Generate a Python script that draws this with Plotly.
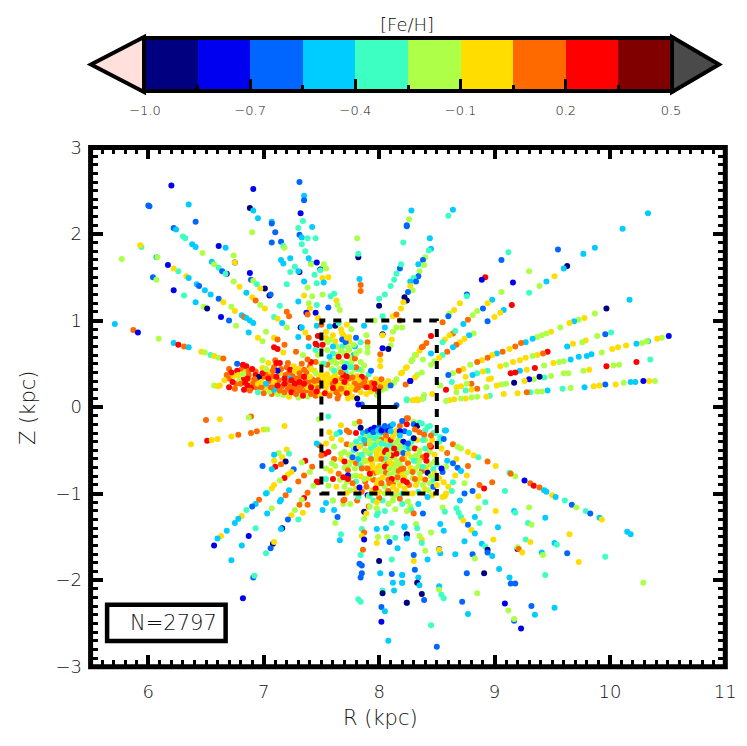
import plotly.graph_objects as go

# colorbar
fe_edges = [-1.0, -0.85, -0.7, -0.55, -0.4, -0.25, -0.1, 0.05, 0.2, 0.35, 0.5]
fe_colors = ['#000080', '#0000f0', '#0066ff', '#00ccff', '#3dffc2',
             '#adff47', '#ffdd00', '#ff6a00', '#ff0000', '#800000']
fe_ticks = [-1.0, -0.7, -0.4, -0.1, 0.2, 0.5]
fe_ticktext = ['\u22121.0', '\u22120.7', '\u22120.4', '\u22120.1', '0.2', '0.5']

# stars, one row per star: R (kpc), Z (kpc), [Fe/H]
rays_upper_left = [
 [6.20,2.56,-.8],[7.31,2.60,-.6],[6.91,2.52,-.8],[7.35,2.44,-.5],[7.35,2.39,-.6],[6.00,2.33,-.6],[6.01,2.32,-.6],
 [6.35,2.34,-.5],[6.88,2.30,-.9],[6.91,2.27,-.5],[6.95,2.18,-.5],[7.32,2.24,-.8],[7.34,2.15,-.3],[6.41,2.14,-.6],
 [7.07,2.14,-.5],[7.07,2.12,-.6],[7.10,2.02,-.6],[7.42,2.08,-.5],[7.30,2.07,-.3],[6.22,2.07,-.6],[6.24,2.05,-.5],
 [6.90,2.02,-.2],[7.31,1.99,-.6],[7.33,1.96,-.5],[7.38,1.95,-.3],[7.45,1.95,-.3],[7.81,1.95,-.2],[6.30,1.97,-.3],
 [6.32,1.95,-.3],[7.07,1.90,-.6],[7.15,1.91,-.6],[7.17,1.86,-.3],[7.18,1.84,-.2],[5.94,1.85,-.3],[5.93,1.87,0.],
 [6.38,1.88,-.5],[6.41,1.85,-.5],[6.61,1.86,-.8],[6.67,1.84,-.5],[7.33,1.88,-.3],[7.36,1.80,-.3],[6.47,1.78,-.2],
 [6.74,1.75,-.2],[5.77,1.71,-.2],[6.07,1.73,-.5],[6.08,1.73,-.2],[7.23,1.72,-.5],[7.39,1.72,-.5],[7.82,1.73,-.9],
 [7.82,1.77,-.3],[7.15,1.70,-.5],[7.17,1.66,-.5],[6.55,1.68,-.5],[6.57,1.65,-.2],[6.17,1.64,-.8],[6.75,1.67,-.9],
 [6.75,1.67,0.],[7.41,1.66,-.5],[7.41,1.65,-.2],[7.46,1.67,-.8],[7.52,1.65,-.2],[7.27,1.62,-.3],[6.26,1.57,-.3],
 [6.22,1.60,0.],[6.61,1.61,-.3],[6.64,1.57,-.6],[6.68,1.54,-.9],[6.67,1.54,-.3],[7.23,1.56,-.3],[7.31,1.56,-.9],
 [7.30,1.57,-.5],[7.49,1.59,-.9],[7.49,1.58,-.3],[7.54,1.60,-.2],[7.56,1.50,0.],[6.88,1.55,-.8],[7.44,1.53,-.3],
 [6.04,1.50,-.6],[6.07,1.47,-.2],[6.33,1.51,0.],[6.35,1.49,-.5],[7.51,1.49,0.],[7.52,1.44,-.5],[7.83,1.48,-.5],
 [7.84,1.41,.1],[7.84,1.34,.1],[6.89,1.47,-.6],[6.91,1.46,-.2],[6.74,1.45,-.2],[7.35,1.45,-.5],[7.46,1.43,-.3],
 [6.42,1.42,-.5],[6.44,1.40,-.6],[6.94,1.42,-.3],[6.79,1.39,0.],[7.20,1.42,-.3],[7.01,1.37,-.9],[6.97,1.37,0.],
 [7.38,1.38,-.2],[6.22,1.35,-.8],[6.49,1.35,-.5],[6.85,1.32,-.5],[7.35,1.29,0.],[7.42,1.28,-.2],[7.51,1.30,-.2],
 [7.58,1.28,-.3],[7.61,1.31,-.3],[7.05,1.29,-.9],[7.06,1.30,-.6],[6.54,1.30,-.5],[6.61,1.25,-.6],[6.31,1.29,-.3],
 [6.90,1.27,0.],[6.93,1.23,.1],[6.65,1.21,0.],[6.41,1.21,-.5],[7.30,1.22,-.5],[7.39,1.20,-.2],[7.46,1.18,-.3],
 [7.63,1.23,0.],[7.64,1.18,-.2],[6.97,1.18,-.2],[7.01,1.14,0.],[7.14,1.17,-.3],[6.48,1.16,-.2],[6.51,1.14,-.9],
 [6.72,1.16,-.2],[6.75,1.11,0.],[7.56,1.15,-.6],[7.40,1.14,0.],[7.66,1.12,-.2],[7.37,1.09,-.8],[7.38,1.07,.1],
 [7.45,1.09,-.8],[7.20,1.10,.1],[7.22,1.05,.1],[6.63,1.04,-.8],[6.70,1.00,-.6],[6.81,1.06,-.5],[6.83,1.04,.1],
 [6.85,1.03,-.5],[6.88,1.00,-.5],[6.91,.97,-.5],[7.09,1.04,-.3],[7.12,1.02,0.],[7.47,1.03,0.],[7.16,.97,-.5],
 [6.76,.94,-.2],[7.20,.92,-.2],[5.71,.96,-.5],[5.87,.89,.1],[5.91,.86,-.8],[7.32,.92,-.9],[7.33,.92,-.5],
 [7.02,.87,-.2],[6.87,.86,-.5],[7.36,.86,0.],[7.46,.94,-.5],[7.39,.80,.1],[7.30,.81,-.5],[6.95,.80,0.],[6.99,.76,-.2],
 [6.09,.79,-.2],[7.09,.80,0.],[7.12,.78,.1],[7.18,.72,.1],[6.22,.74,-.5],[6.26,.72,.3],[6.31,.70,.1],[6.35,.69,-.5],
 [7.39,.70,-.5],[7.09,.69,.3],[7.12,.67,.3],[7.17,.63,0.],[7.28,.64,.1],[7.45,.73,.3],[7.46,.71,.3],[6.46,.64,0.],
 [6.49,.63,-.2],[6.54,.60,-.3],[6.57,.59,0.],[6.61,.57,-.2],[6.65,.56,.1],
]
rays_upper_right = [
 [8.28,2.27,-.5],[8.26,2.17,-.2],[8.24,2.10,-.6],[8.24,2.09,-.6],[8.64,2.28,-.5],[8.60,2.21,-.3],[10.33,2.24,-.5],[10.11,2.06,-.5],
 [8.44,1.95,-.5],[8.21,1.90,-.3],[8.45,1.83,-.5],[8.43,1.81,-.3],[9.12,1.79,-.3],[9.06,1.70,-.6],[9.55,1.82,-.6],
 [9.87,1.84,-.5],[9.77,1.77,-.5],[8.40,1.73,-.2],[8.38,1.70,-.6],[8.34,1.65,-.5],[8.39,1.64,-.2],[8.35,1.57,-.2],
 [9.63,1.63,-.9],[9.60,1.60,-.5],[9.30,1.57,-.2],[9.52,1.51,0.],[8.92,1.50,.3],[8.89,1.47,-.8],[9.16,1.44,-.8],
 [9.45,1.45,-.5],[9.39,1.40,-.2],[9.30,1.32,-.3],[8.34,1.51,-.6],[8.30,1.49,-.3],[8.32,1.45,-.6],[8.27,1.45,-.5],
 [8.27,1.40,0.],[8.29,1.35,-.2],[8.25,1.33,-.6],[8.22,1.27,-.9],[8.24,1.23,-.9],[8.21,1.21,0.],[8.19,1.14,0.],
 [8.76,1.30,-.6],[8.76,1.28,-.3],[8.70,1.20,0.],[9.06,1.33,-.2],[8.98,1.24,-.5],[8.94,1.20,0.],[9.15,1.18,.3],
 [8.90,1.14,-.6],[8.85,1.11,-.2],[8.81,1.06,-.2],[8.77,1.01,.1],[8.73,.96,-.5],[9.08,1.12,-.5],[9.05,1.09,0.],
 [9.00,1.04,0.],[8.94,.99,-.6],[10.17,1.24,-.5],[9.97,1.14,-.9],[9.87,1.08,-.2],[9.78,1.03,0.],[9.73,1.01,-.2],
 [9.69,.99,-.5],[9.65,.97,0.],[9.57,.92,-.2],[9.49,.87,0.],[9.45,.85,-.2],[9.41,.83,-.2],[9.37,.81,-.2],[9.33,.79,-.5],
 [9.27,.75,-.5],[9.23,.74,.1],[9.18,.70,.1],[9.13,.67,0.],[9.07,.64,.1],[9.02,.62,-.5],[8.98,.60,0.],[8.94,.57,.1],
 [8.89,.54,0.],[8.85,.52,.1],[8.79,.49,-.2],[8.73,.44,0.],[8.69,.42,.1],[8.64,.39,-.2],[8.60,.37,-.6],[8.65,1.12,0.],
 [8.61,1.08,-.2],[8.60,1.05,-.6],[8.55,.98,.1],[8.64,.85,.1],[8.66,.88,-.3],[8.61,.83,0.],[8.57,.78,0.],[8.55,.75,-.3],
 [8.82,.85,-.2],[8.78,.83,-.5],[8.74,.79,0.],[8.70,.75,0.],[8.67,.72,.1],[8.64,.69,-.5],[8.59,.64,.1],[8.55,.60,-.3],
 [8.52,.57,0.],[8.48,.53,-.2],[8.45,.49,-.2],[8.45,.82,.3],[8.41,.74,.1],[8.38,.70,.1],[8.35,.65,0.],[8.32,.60,0.],
 [8.29,.55,-.2],[8.38,.55,-.2],[8.45,.62,-.5],[8.23,.45,-.2],[8.19,.39,0.],[8.37,.40,-.2],[8.33,.37,-.2],[8.31,.34,0.],
 [8.27,.30,-.8],[8.23,.26,.1],[10.01,.86,-.3],[9.96,.84,-.6],[9.89,.82,-.2],[9.79,.77,0.],[9.76,.75,-.2],[9.68,.73,0.],
 [9.63,.70,-.5],[10.51,.82,-.8],[10.45,.80,-.2],[10.41,.79,0.],[10.33,.76,-.5],[10.32,.76,-.2],[10.28,.74,-.2],
 [10.23,.73,-.5],[10.14,.71,0.],[10.07,.69,0.],[10.02,.67,0.],[9.93,.63,-.2],[9.84,.61,-.5],[9.80,.59,-.5],[9.73,.58,-.5],
 [9.66,.55,-.5],[9.60,.53,-.2],[9.56,.52,-.2],[9.51,.51,0.],[9.46,.64,.3],[9.42,.62,.1],[9.37,.60,0.],[9.33,.59,-.2],
 [9.27,.57,0.],[9.22,.54,0.],[9.16,.52,0.],[9.10,.49,-.2],[9.05,.47,0.],[10.35,.55,-.3],[10.23,.52,.3],[10.08,.49,-.2],
 [10.03,.48,-.2],[9.97,.47,.3],[9.82,.43,0.],[9.77,.42,-.2],[9.64,.39,-.2],[9.60,.39,-.2],[9.49,.36,-.2],[9.43,.48,-.2],
 [9.35,.45,.3],[9.28,.43,0.],[9.22,.42,-.5],[9.18,.40,.3],[9.14,.39,.3],[9.43,.34,-.3],[9.39,.35,-.9],[9.34,.32,-.2],
 [9.30,.32,-.8],[9.26,.30,0.],[9.17,.28,-.9],[9.10,.27,-.2],[9.06,.26,-.2],[9.02,.25,0.],[8.97,.33,0.],[8.95,.32,0.],
 [8.94,.42,-.3],[8.90,.41,0.],[8.85,.39,-.3],[8.81,.37,-.5],[8.75,.35,0.],[8.80,.27,.1],[8.76,.27,-.2],[8.71,.24,0.],
 [8.67,.23,0.],[8.63,.29,-.3],[8.53,.25,-.2],[8.58,.20,.3],[8.93,.23,-.2],[8.85,.21,.1],[8.75,.19,-.3],[8.80,.20,0.],
 [8.67,.17,-.2],[10.39,.30,-.2],[10.34,.30,0.],[10.29,.30,-.8],[10.22,.29,-.5],[10.18,.29,-.5],[10.12,.28,-.2],
 [10.05,.26,0.],[9.96,.26,-.6],[9.91,.25,0.],[9.86,.24,0.],[9.78,.23,-.5],[9.66,.22,-.2],[9.59,.21,-.3],[9.46,.19,-.5],
 [9.41,.18,-.2],[9.37,.18,-.2],[9.31,.17,-.3],[9.28,.17,.1],[9.20,.16,0.],[9.08,.15,0.],[8.96,.13,-.3],[8.93,.12,0.],
 [8.85,.12,-.2],[8.80,.11,-.2],[8.75,.10,0.],[8.71,.10,-.2],[8.65,.09,0.],[8.61,.08,0.],[8.58,.07,-.2],[8.46,.15,0.],
 [8.39,.14,-.2],[8.38,.10,-.5],[8.33,.09,0.],[8.30,.08,0.],[8.24,.09,-.3],
]
rays_lower_left = [
 [6.50,-.15,.1],[6.62,-.14,0.],[6.89,-.11,.1],[6.87,-.12,-.2],[7.18,-.22,0.],[6.37,-.43,0.],[6.51,-.39,.3],[6.55,-.38,0.],
 [6.60,-.37,0.],[6.72,-.34,0.],[6.78,-.32,.1],[6.89,-.30,.1],[6.94,-.28,.1],[7.00,-.26,0.],[7.03,-.26,-.2],[7.20,-.49,0.],
 [7.13,-.53,-.2],[7.09,-.55,-.5],[7.22,-.54,-.3],[7.16,-.58,0.],[7.09,-.62,0.],[7.19,-.63,-.9],[7.15,-.66,.1],[7.10,-.69,.3],
 [7.07,-.72,-.5],[6.99,-.68,-.6],[7.26,-.72,-.6],[7.24,-.75,0.],[7.21,-.78,0.],[7.18,-.82,.3],[7.14,-.85,-.2],[7.09,-.90,0.],
 [7.07,-.94,0.],[7.03,-.99,-.3],[7.02,-1.00,-.5],[7.36,-.62,.3],[7.33,-.64,-.2],[7.42,-.69,.1],[7.40,-.75,-.2],[7.35,-.79,.1],
 [7.30,-.86,.1],[7.22,-.96,-.5],[7.46,-.86,.3],[7.43,-.91,-.2],[7.38,-.99,.1],[7.35,-1.05,.3],[7.33,-1.07,-.2],[7.38,-1.13,.1],
 [7.31,-1.13,.1],[7.19,-1.02,.1],[7.15,-1.07,-.5],[7.14,-1.09,-.5],[6.96,-1.07,.1],[6.93,-1.12,-.5],[6.90,-1.15,-.6],
 [6.85,-1.19,-.3],[6.81,-1.26,0.],[6.78,-1.29,-.5],[6.75,-1.34,-.5],[7.07,-1.17,-.2],[7.03,-1.23,-.5],[7.27,-1.19,-.2],
 [7.24,-1.25,0.],[7.21,-1.30,-.6],[7.34,-1.22,0.],[7.30,-1.30,-.3],[6.93,-1.40,-.3],[6.68,-1.43,-.5],[6.63,-1.49,0.],
 [6.60,-1.52,-.5],[6.57,-1.60,-.8],[6.87,-1.49,-.8],[6.81,-1.60,-.5],[6.72,-1.77,-.5],[7.16,-1.40,-.9],[7.15,-1.41,-.5],
 [7.08,-1.58,-.9],[7.09,-1.56,0.],[7.06,-1.63,-.6],[7.02,-1.69,-.3],[6.91,-1.97,-.6],[6.92,-1.95,-.3],[6.82,-2.21,-.8],
 [7.51,-1.19,-.5],[7.54,-1.11,-.5],[7.60,-1.08,-.3],[7.61,-1.19,-.5],[7.64,-1.27,-.6],[7.62,-1.34,-.2],[7.67,-1.47,-.3],
 [7.66,-1.54,-.5],[7.70,-1.07,.1],[7.69,-1.12,-.2],[7.75,-1.12,-.2],[7.81,-1.08,.1],[7.87,-1.21,-.9],[7.91,-1.15,.1],
 [7.89,-1.23,0.],[7.87,-1.29,-.2],[7.85,-1.41,-.3],[7.87,-1.45,.1],[7.85,-1.49,0.],[7.87,-1.53,-.8],[7.86,-1.65,.1],
 [7.84,-1.71,-.3],[7.83,-1.81,-.6],[7.85,-1.83,-.6],[7.85,-1.92,-.6],[7.84,-1.97,-.6],[7.82,-2.22,-.3],[7.84,-2.25,-.3],
 [7.98,-1.25,-.3],[7.98,-1.41,-.5],[7.99,-1.50,-.2],[7.98,-1.57,0.],[8.06,-1.40,-.5],[8.11,-1.34,-.3],[8.07,-1.50,-.2],
 [8.14,-1.51,-.3],[8.09,-1.56,-.6],[8.16,-1.63,-.5],[8.11,-1.76,-.3],[8.00,-1.78,-.9],[8.01,-1.92,-.5],[8.11,-1.93,-.6],
 [8.20,-1.94,-.5],[8.12,-2.03,-.5],[8.20,-2.03,-.5],[8.13,-2.12,-.5],[8.03,-2.12,-.3],[8.03,-2.15,-.9],[8.02,-2.31,-.6],
 [8.05,-2.36,-.5],[8.02,-2.48,-.8],[8.08,-2.70,-.5],[8.24,-2.26,-.6],[8.22,-1.38,-.5],[8.24,-1.48,-.9],
]
rays_lower_right = [
 [8.58,-.27,-.5],[8.53,-.35,-.3],[8.49,-.30,-.3],[8.44,-.22,-.3],[8.35,-.18,-.3],[8.30,-.17,-.2],[8.24,-.13,.1],[8.64,-.43,.1],
 [8.68,-.46,-.2],[8.71,-.48,-.2],[8.77,-.52,0.],[8.82,-.56,0.],[8.86,-.58,-.3],[8.94,-.63,.1],[9.01,-.68,0.],[8.54,-.48,-.2],
 [8.59,-.53,.1],[8.67,-.60,0.],[8.59,-.62,-.5],[8.64,-.65,-.6],[8.68,-.70,-.6],[8.71,-.74,-.5],[8.76,-.79,0.],[8.77,-.68,.1],
 [8.58,-.69,-.2],[8.55,-.75,-.6],[8.66,-.79,0.],[8.56,-.87,0.],[8.60,-.92,0.],[8.64,-.87,-.3],[8.74,-.88,-.2],[8.87,-.90,.1],
 [8.91,-.94,.3],[8.98,-.87,.1],[8.81,-.97,-.6],[8.74,-1.00,-.6],[8.63,-.97,-.3],[8.57,-1.03,0.],[8.70,-1.08,-.5],[8.86,-1.03,0.],
 [8.92,-1.10,-.3],[8.86,-1.17,-.2],[8.55,-1.16,-.2],[8.57,-1.21,-.3],[8.67,-1.17,-.3],[8.69,-1.22,-.3],[8.71,-1.27,-.3],
 [8.73,-1.31,0.],[8.77,-1.36,-.6],[8.80,-1.42,0.],[8.83,-1.46,-.5],[8.83,-1.27,-.5],[8.87,-1.34,-.3],[9.01,-1.20,0.],
 [9.03,-1.39,-.5],[9.09,-.97,-.3],[9.13,-.76,-.3],[9.18,-.80,-.2],[9.14,-.77,.1],[9.26,-.85,-.8],[9.31,-.88,.1],[9.34,-.91,.3],
 [9.39,-.93,.1],[9.43,-.96,-.5],[9.45,-.98,-.5],[9.50,-1.02,0.],[9.53,-1.04,-.5],[9.61,-1.08,-.3],[9.67,-1.13,-.6],
 [9.71,-1.16,-.2],[9.79,-1.20,-.3],[9.83,-1.23,-.6],[9.91,-1.28,-.5],[9.93,-1.30,0.],[9.17,-1.20,-.5],[9.18,-1.22,-.3],
 [9.30,-1.16,-.2],[9.44,-1.28,-.5],[9.29,-1.34,-.3],[9.32,-1.36,-.2],[10.15,-1.44,-.5],[10.18,-1.47,-.5],[9.65,-1.47,0.],
 [8.99,-1.53,0.],[9.27,-1.53,-.3],[9.31,-1.56,0.],[9.52,-1.57,-.5],[9.54,-1.59,-.3],[8.89,-1.58,-.5],[8.92,-1.61,-.3],
 [8.94,-1.65,-.9],[8.94,-1.68,-.6],[8.98,-1.72,-.5],[9.20,-1.64,-.9],[9.20,-1.62,-.2],[9.21,-1.64,.1],[9.24,-1.68,0.],
 [9.41,-1.68,-.5],[9.42,-1.71,-.2],[9.63,-1.69,-.6],[9.73,-1.79,0.],[9.96,-1.73,-.3],[8.81,-1.70,-.6],[8.83,-1.75,-.2],
 [8.66,-1.70,-.5],[8.74,-1.55,-.5],[8.53,-1.69,-.5],[8.52,-1.64,-.6],[8.52,-1.65,0.],[8.42,-1.76,-.5],[8.30,-1.71,-.6],
 [8.30,-1.78,0.],[8.31,-1.88,-.6],[8.40,-1.66,-.2],[8.45,-1.45,-.2],[8.56,-1.43,-.5],[8.53,-1.35,-.5],[8.37,-1.53,0.],
 [8.35,-1.49,-.2],[8.37,-1.57,-.3],[8.32,-1.35,-.2],[8.33,-1.40,-.3],[8.24,-1.47,-.9],[8.24,-1.52,-.5],[8.22,-1.39,-.5],
 [8.27,-1.15,-.2],[8.28,-1.19,-.3],[8.30,-1.23,.1],[8.38,-1.23,-.6],[8.34,-1.12,-.5],[8.76,-1.92,-.6],[8.91,-1.92,-.9],
 [9.04,-1.87,-.5],[9.13,-1.97,-.5],[9.14,-2.04,-.6],[9.18,-2.04,-.6],[9.44,-1.94,-.3],[10.29,-2.03,-.2],[8.20,-1.94,-.5],
 [8.20,-2.03,-.5],[8.34,-1.97,-.5],[8.33,-2.03,-.9],[8.35,-2.06,-.5],[8.52,-2.07,-.5],[8.52,-2.11,-.2],[8.54,-2.17,-.3],
 [8.56,-2.21,-.3],[8.37,-2.16,-.9],[8.39,-2.23,-.6],[8.24,-2.26,-.9],[8.72,-2.25,-.6],[8.85,-2.15,-.2],[8.77,-2.39,-.5],
 [9.09,-2.27,-.8],[9.12,-2.35,-.2],[9.32,-2.30,-.6],[9.52,-2.32,-.5],[9.35,-2.40,-.5],[9.17,-2.47,-.6],[9.17,-2.45,-.2],
 [9.23,-2.56,-.8],[8.45,-2.52,-.3],[8.50,-2.77,-.6],
]
disk_fill = [
 [6.70,.33,.1],[6.74,.36,0.],[6.76,.27,.1],[6.79,.31,-.2],[6.81,.44,.1],[6.84,.40,0.],[6.87,.37,.1],[6.89,.31,0.],[6.91,.27,.1],[6.93,.41,.1],
 [6.94,.22,.1],[6.97,.31,.1],[6.99,.45,0.],[7.00,.35,.1],[7.01,.22,0.],[7.03,.38,.1],[7.05,.30,.1],[7.06,.41,0.],[7.07,.15,.1],[7.08,.36,.1],
 [7.09,.46,.1],[7.10,.25,.1],[7.11,.20,0.],[7.13,.31,.1],[7.14,.39,0.],[7.15,.44,.1],[7.16,.24,.1],[7.17,.14,-.2],[7.19,.37,.1],[7.20,.29,.1],
 [7.21,.21,.1],[7.22,.40,.1],[7.23,.24,.1],[7.25,.36,.1],[7.26,.47,0.],[7.26,.20,.1],[7.28,.33,.1],[7.29,.27,.1],[7.30,.44,0.],[7.31,.19,.1],
 [7.32,.35,.1],[7.33,.24,.1],[7.36,.30,.1],[7.37,.40,.1],[7.37,.19,.1],[7.39,.28,.1],[7.40,.47,.1],[7.42,.32,.1],[7.42,.18,.1],[7.43,.25,0.],
 [7.44,.42,0.],[7.45,.13,.1],[7.46,.27,0.],[7.47,.22,.1],[7.48,.36,0.],[7.49,.14,0.],[7.38,.12,-.2],[7.30,.11,-.2],[7.22,.12,0.],[7.12,.15,-.2],
 [7.00,.16,.1],
]
box_fill = [
 [7.52,.30,0.],[7.54,.22,0.],[7.55,.38,0.],[7.56,.15,0.],[7.58,.31,0.],[7.59,.44,-.2],[7.60,.18,0.],[7.61,.26,0.],[7.62,.38,0.],[7.63,.23,0.],
 [7.64,.33,0.],[7.65,.14,.1],[7.66,.44,-.2],[7.66,.26,0.],[7.68,.18,0.],[7.68,.33,.1],[7.70,.22,0.],[7.71,.40,-.3],[7.72,.27,0.],[7.73,.46,-.2],
 [7.74,.33,.1],[7.75,.20,0.],[7.76,.38,-.2],[7.77,.12,0.],[7.78,.28,0.],[7.79,.44,-.2],[7.80,.20,.1],[7.81,.36,0.],[7.83,.27,.1],[7.84,.17,0.],
 [7.85,.42,-.2],[7.86,.25,.1],[7.88,.33,.1],[7.89,.15,0.],[7.90,.28,0.],[7.91,.38,-.3],[7.93,.18,0.],[7.94,.28,.1],[7.97,.32,0.],[7.98,.14,-.2],
 [8.00,.28,0.],[8.03,.20,-.2],[8.06,.22,-.2],[8.08,.30,0.],[7.58,.52,-.2],[7.64,.60,-.2],[7.68,.52,-.2],[7.72,.50,-.3],[7.76,.52,-.2],[7.82,.44,-.3],
 [7.78,.60,-.5],[7.74,.66,-.2],[7.68,.70,-.3],[7.60,.62,-.3],[7.55,.66,-.2],[7.50,.50,-.2],[7.62,.76,0.],[7.68,.85,0.],[7.74,.76,0.],[7.76,.90,-.2],
 [7.72,.95,0.],[7.58,.78,-.2],[7.54,.80,0.],[7.80,.80,-.6],[7.79,.70,-.5],[7.83,.65,-.2],[7.84,.75,-.3],
]
bulge_fill = [
 [7.86,-.30,-.5],[7.89,-.34,-.2],[7.90,-.28,-.6],[7.93,-.26,-.8],[7.96,-.24,-.8],[7.98,-.30,-.3],[8.00,-.24,-.6],[8.03,-.33,-.2],[8.05,-.28,-.6],
 [8.08,-.27,-.8],[8.10,-.22,-.6],[8.13,-.31,0.],[7.84,-.36,-.3],[7.88,-.42,.1],[7.91,-.37,-.2],[7.94,-.36,0.],[7.97,-.42,-.2],[7.99,-.36,-.3],
 [8.02,-.38,.1],[8.04,-.42,-.3],[8.07,-.38,0.],[8.10,-.43,-.3],[8.14,-.41,-.2],[8.17,-.38,-.2],[7.80,-.40,-.3],[7.84,-.44,-.3],[7.88,-.50,-.2],
 [7.92,-.54,-.3],[7.95,-.50,-.2],[7.98,-.55,0.],[8.01,-.48,-.2],[8.03,-.55,0.],[8.06,-.60,-.3],[8.10,-.50,-.2],[8.13,-.58,-.2],[8.16,-.48,-.3],
 [8.19,-.52,-.2],[8.22,-.46,-.3],[8.26,-.48,-.5],[8.28,-.40,-.3],[7.78,-.50,-.3],[7.82,-.55,-.2],[7.86,-.59,-.2],[7.90,-.62,0.],[7.94,-.66,0.],
 [7.96,-.60,-.2],[8.00,-.68,0.],[8.04,-.66,-.2],[8.07,-.66,.1],[8.11,-.66,0.],[8.14,-.72,-.2],[8.18,-.66,-.2],[8.22,-.60,0.],[8.25,-.65,.1],
 [8.28,-.58,-.2],[8.32,-.62,-.3],[8.35,-.55,-.2],[8.38,-.58,.1],[8.40,-.48,-.3],[8.44,-.52,-.2],[8.48,-.55,0.],[7.70,-.52,-.2],[7.74,-.55,-.2],
 [7.70,-.70,-.2],[7.76,-.62,0.],[7.80,-.65,.1],[7.84,-.67,-.3],[7.88,-.70,0.],[7.92,-.72,0.],[7.96,-.76,.1],[7.99,-.75,0.],[8.02,-.74,-.2],[8.06,-.76,.1],
 [8.09,-.78,-.2],[8.13,-.76,-.2],[8.17,-.74,.1],[8.20,-.78,0.],[8.24,-.76,-.2],[8.27,-.70,0.],[8.31,-.72,-.2],[8.34,-.68,-.2],[8.37,-.74,.1],[8.41,-.70,0.],
 [8.44,-.66,-.2],[8.47,-.72,-.3],[8.50,-.66,-.3],[7.58,-.74,0.],[7.62,-.68,-.2],[7.66,-.84,-.2],[7.72,-.86,-.2],[7.76,-.80,-.2],[7.80,-.86,-.3],[7.84,-.80,0.],
 [7.88,-.86,.1],[7.91,-.82,0.],[7.95,-.84,.1],[7.98,-.90,0.],[8.01,-.84,0.],[8.05,-.92,-.2],[8.08,-.84,.1],[8.12,-.88,.1],[8.15,-.84,-.2],[8.18,-.90,0.],
 [8.22,-.82,0.],[8.26,-.90,.1],[8.29,-.82,-.2],[8.33,-.86,-.2],[8.36,-.82,0.],[8.40,-.84,.1],[8.44,-.88,-.2],[8.47,-.84,-.3],[8.52,-.82,0.],[7.75,-.96,-.2],
 [7.80,-.94,0.],[7.85,-.98,.1],[7.94,-.96,0.],[8.00,-.98,0.],[8.05,-1.00,-.2],[8.08,-.97,.1],[8.15,-1.02,-.2],[8.20,-1.00,-.3],[8.25,-1.00,0.],[8.34,-.98,-.3],
 [8.40,-.95,0.],[8.46,-1.02,0.],[7.82,-1.04,-.3],[7.95,-1.08,-.3],[8.03,-1.08,-.3],[8.08,-1.12,-.2],[8.12,-1.08,-.2],[8.20,-1.12,-.3],[8.14,-1.18,-.2],
 [8.05,-1.20,-.3],[7.99,-1.22,-.3],[8.24,-1.20,-.2],[7.92,-1.15,-.2],[8.30,-.20,-.6],[8.22,-.28,-.6],[8.33,-.22,-.9],[8.26,-.30,-.5],[8.40,-.27,-.3],
 [8.47,-.30,-.3],[8.40,-.38,-.2],[8.46,-.38,0.],[8.33,-.38,0.],[8.52,-.40,-.3],[8.18,-.22,.1],[8.12,-.20,-.5],[8.20,-.16,-.6],
]
upper_box = [
 [7.50,.95,.1],[7.54,.87,0.],[7.57,.93,-.5],[7.60,.83,0.],[7.67,.90,0.],[7.69,.83,0.],[7.74,.81,0.],[7.62,.94,-.9],[7.65,.97,-.3],
 [7.71,.75,-.6],[7.73,.69,-.2],[7.63,.70,-.2],[7.67,.65,-.2],[7.70,.62,-.2],[7.74,.58,-.2],[7.61,.54,-.2],[7.47,.60,-.2],
 [7.87,.94,-.5],[7.89,.83,-.2],[7.90,.75,.1],[7.90,.69,-.2],[7.90,.63,-.2],[8.03,.68,-.8],[8.01,.61,.1],[8.01,.54,0.],
 [8.01,.47,0.],[8.03,.84,-.9],[8.03,.83,0.],[8.05,.92,-.5],[8.12,.87,-.2],[8.15,.92,-.2],[8.11,.78,0.],[8.10,.71,-.2],
 [8.08,.67,-.9],[7.93,.42,-.6],[7.96,1.00,-.2],[8.00,1.25,-.3],[8.00,1.17,-.9],[8.03,1.05,-.3],[8.05,1.30,-.3],[8.10,1.40,-.3],
 [8.13,1.47,-.3],[8.15,1.54,-.3],[8.18,1.60,-.6],[8.19,1.65,-.3],[8.12,1.05,0.],[8.15,1.07,.1],[8.18,1.00,.1],[8.20,.92,-.2],
 [7.57,.58,-.5],[7.65,.58,.3],[7.72,.59,.3],[7.79,.56,.1],[7.55,.49,.1],[7.63,.50,-.2],[7.80,.46,.1],[7.76,.46,-.3],[7.70,.46,-.8],
 [7.61,.42,-.3],[7.87,.48,-.2],[7.55,.75,-.2],[7.60,.70,-.5],[7.68,.78,-.6],[7.72,.80,0.],[7.78,.72,-.2],[7.80,.62,-.2],[7.84,.52,-.2],
 [7.47,.82,.3],[7.51,.72,.3],[7.45,.66,-.3],[7.52,.50,-.3],[7.45,.52,.1],
]
disk_left = [
 [6.77,.50,-.6],[6.70,.44,.1],[6.72,.40,.3],[6.77,.42,.3],[6.82,.49,.3],[6.85,.47,.3],[6.87,.42,.1],[6.90,.44,.3],[6.68,.37,.1],
 [6.66,.31,0.],[6.62,.25,0.],[6.57,.25,-.2],[6.60,.24,0.],[6.78,.37,0.],[6.83,.33,.3],[6.86,.33,.3],[6.82,.38,-.2],[6.93,.37,.3],
 [6.96,.35,-.9],[6.99,.39,.3],[7.02,.44,-.2],[6.99,.54,-.2],[7.04,.51,0.],[7.10,.54,.1],[7.11,.51,.3],[7.14,.51,.3],[7.12,.42,-.8],
 [7.08,.42,.1],[7.20,.46,.1],[7.21,.51,.1],[7.23,.43,.3],[7.33,.50,.1],[7.34,.60,-.2],[7.41,.44,0.],[7.27,.42,0.],[7.35,.43,.1],
 [7.31,.39,.1],[7.23,.33,-.5],[7.04,.33,.3],[7.09,.29,0.],[6.95,.27,0.],[6.98,.23,.1],[6.95,.17,-.3],[7.05,.18,-.2],[7.09,.20,-.5],
 [7.14,.19,.1],[7.18,.17,.1],[7.24,.17,.3],[7.28,.15,.1],[7.34,.17,.1],[7.34,.13,.3],[7.41,.15,.1],[7.30,.23,.1],[7.38,.23,0.],
 [7.41,.23,.3],[6.73,.29,.3],[6.70,.23,.3],[6.75,.21,.1],[6.83,.20,.3],[6.86,.25,.3],[6.89,.22,.3],[6.88,.19,.1],[7.11,.35,.3],
 [7.18,.33,.3],[7.18,.27,.3],[7.12,.25,.3],[7.24,.31,.3],[7.27,.27,.3],[7.31,.29,.3],[7.35,.27,.3],[7.35,.35,.3],[7.40,.35,0.],
 [7.44,.30,.1],[7.46,.18,.3],[7.45,.39,-.2],[7.41,.52,.3],[7.38,.55,.1],[6.92,.32,.1],[6.98,.29,0.],[7.02,.27,-.5],[7.06,.23,.1],
 [6.80,.27,.1],[6.84,.28,.3],
]
disk_right = [
 [8.02,.32,.1],[8.05,.27,0.],[8.01,.23,.1],[7.99,.18,.1],[7.96,.27,.3],[7.96,.21,.3],[7.92,.23,.1],[7.89,.23,.3],[7.87,.29,.1],[7.85,.35,.3],
 [7.82,.31,0.],[7.82,.23,.1],[7.79,.27,.1],[7.76,.23,0.],[7.74,.17,0.],[7.72,.16,.3],[7.67,.21,.1],[7.70,.29,.3],[7.69,.37,.3],[7.72,.35,.3],
 [7.77,.34,.1],[7.67,.40,.1],[7.61,.35,0.],[7.57,.33,0.],[7.53,.35,0.],[7.50,.37,0.],[7.47,.31,.1],[7.51,.25,0.],[7.56,.27,0.],[7.60,.27,.1],
 [7.63,.17,.1],[7.53,.16,.3],[7.57,.13,.1],[7.64,.10,.1],[7.73,.10,0.],[7.81,.10,-.9],[7.85,.03,-.6],[7.82,.03,-.8],[8.31,.60,-.2],
 [8.28,.53,-.2],[8.24,.46,0.],[8.20,.40,0.],[8.37,.69,.1],[8.27,.30,-.8],[8.15,.32,-.2],[8.13,.28,-.2],[8.10,.25,-.6],[8.15,.02,-.6],
 [8.24,.08,-.3],[8.29,.08,0.],[8.34,.08,0.],[8.38,.10,-.2],[7.60,.22,.3],[7.62,.30,.3],
]
bulge_left = [
 [7.56,-.11,-.3],[7.48,-.14,-.2],[7.57,-.29,0.],[7.67,-.21,0.],[7.72,-.27,.1],[7.74,-.29,.1],[7.80,-.30,.3],[7.79,-.19,-.2],[7.83,-.17,.1],
 [7.84,-.24,-.9],[7.66,-.29,-.5],[7.63,-.31,-.3],[7.59,-.36,0.],[7.54,-.42,0.],[7.48,-.44,.1],[7.46,-.42,-.5],[7.67,-.38,0.],[7.72,-.43,.1],
 [7.61,-.46,-.2],[7.56,-.52,.3],[7.53,-.54,.3],[7.50,-.56,.1],[7.61,-.60,.1],[7.67,-.54,-.2],[7.76,-.44,-.2],[7.80,-.48,-.8],[7.83,-.46,0.],
 [7.77,-.58,-.6],[7.82,-.60,-.5],[7.67,-.60,0.],[7.59,-.65,-.2],[7.54,-.71,-.2],[7.74,-.67,-.2],[7.87,-.38,-.5],[7.92,-.33,-.3],[7.95,-.29,-.6],
 [7.99,-.27,-.5],[8.02,-.29,-.5],[7.96,-.44,-.3],[7.90,-.52,-.2],[7.99,-.50,0.],[7.93,-.60,.1],[7.87,-.63,-.2],[7.96,-.36,-.3],[8.00,-.40,-.2],
 [7.93,-.47,-.3],[8.02,-.42,-.3],[7.85,-.55,-.3],[7.92,-.42,-.2],[7.85,-.71,.1],[7.90,-.71,.1],[7.97,-.71,0.],[7.99,-.60,0.],[8.02,-.60,.1],
 [7.73,-.73,.1],[7.73,-.79,-.8],[7.65,-.77,.1],[7.54,-.83,-.3],[7.47,-.87,.3],[7.56,-.91,-.2],[7.63,-.92,0.],[7.70,-.92,-.2],[7.77,-.88,.1],
 [7.83,-.93,-.8],[7.89,-.92,.1],[7.99,-.85,0.],[7.93,-.79,-.2],[7.87,-.83,-.2],[7.80,-.79,-.2],[7.79,-.71,-.2],[7.97,-.94,.3],[7.60,-1.08,-.2],
 [7.69,-1.08,.1],[7.72,-.99,0.],[7.90,-1.02,-.8],[7.91,-1.03,-.2],[8.00,-1.05,.1],[7.98,-1.00,0.],[7.98,-1.10,0.],[7.98,-1.17,-.2],[7.92,-1.02,-.3],
 [7.70,-.63,.3],[7.69,-.81,.3],[7.73,-.83,.3],[7.60,-.83,.3],[7.92,-.77,.3],
]
bulge_right = [
 [8.25,-.13,.1],[8.24,-.20,.3],[8.15,-.27,0.],[8.18,-.28,-.8],[8.18,-.33,-.5],[8.21,-.40,-.8],[8.31,-.26,.1],[8.37,-.19,-.3],[8.42,-.23,-.3],
 [8.35,-.29,.1],[8.39,-.32,.1],[8.45,-.33,.1],[8.57,-.27,-.5],[8.56,-.37,-.6],[8.06,-.33,.1],[8.02,-.27,-.8],[8.10,-.38,.3],[8.07,-.45,-.3],
 [8.12,-.34,0.],[8.06,-.50,.3],[8.05,-.52,.3],[8.13,-.48,.3],[8.15,-.54,.3],[8.11,-.56,.3],[8.21,-.53,-.6],[8.29,-.47,-.2],[8.31,-.48,.3],
 [8.25,-.54,0.],[8.32,-.56,-.2],[8.41,-.56,.3],[8.45,-.46,.3],[8.44,-.44,.1],[8.54,-.48,0.],[8.41,-.62,.3],[8.48,-.63,-.2],[8.38,-.69,-.3],
 [8.42,-.76,-.9],[8.54,-.71,-.8],[8.48,-.77,0.],[8.35,-.77,-.2],[8.29,-.75,.1],[8.09,-.63,0.],[8.15,-.62,-.2],[8.05,-.69,.3],[8.15,-.67,-.2],
 [8.09,-.71,-.2],[8.21,-.71,.1],[8.19,-.72,.1],[8.16,-.81,.1],[8.21,-.85,.3],[8.24,-.87,.3],[8.11,-.83,.3],[8.09,-.88,.1],[8.03,-.81,0.],
 [8.02,-.88,.1],[8.31,-.83,.1],[8.32,-.90,0.],[8.15,-.96,0.],[8.22,-.94,0.],[8.29,-1.00,0.],[8.38,-.90,-.2],[8.43,-.96,-.2],[8.55,-1.04,0.],
 [8.58,-1.00,0.],[8.18,-1.06,.1],[8.25,-1.09,-.2],[8.42,-1.04,-.5],[8.47,-.92,-.6],[8.50,-.90,0.],[8.12,-.92,0.],[8.12,-1.02,-.2],
 [8.08,-.55,-.2],[8.18,-.45,-.2],[8.25,-.42,-.6],[8.30,-.62,-.3],[8.20,-.60,.1],[8.35,-.50,-.2],[8.38,-.38,-.3],[8.10,-.28,-.5],[8.05,-.22,-.6],
 [8.30,-.36,-.9],[8.45,-.80,-.2],[8.35,-.62,-.2],
]

all_rows = (rays_upper_left + rays_upper_right + rays_lower_left + rays_lower_right
            + disk_fill + box_fill + bulge_fill
            + upper_box + disk_left + disk_right + bulge_left + bulge_right)
r_vals = [row[0] for row in all_rows]
z_vals = [row[1] for row in all_rows]
fe_vals = [row[2] for row in all_rows]

# stepped colorscale from the edges
fe_span = fe_edges[-1] - fe_edges[0]
scale = []
for i, col in enumerate(fe_colors):
    scale.append([(fe_edges[i] - fe_edges[0]) / fe_span, col])
    scale.append([(fe_edges[i + 1] - fe_edges[0]) / fe_span, col])

# the page has an 8px body margin, so the figure starts at (8, 8) in the window
PAGE = 8
W, H = 747 - PAGE, 746 - PAGE
def px(v):
    return (v - PAGE) / W
def py(v):
    return 1 - (v - PAGE) / H

text_col = '#111111'
font_name = 'DejaVu Sans Light, DejaVu Sans'

fig = go.Figure()

fig.add_trace(go.Scatter(x=r_vals, y=z_vals, mode='markers', showlegend=False,
                         marker=dict(size=6, color=fe_vals, colorscale=scale,
                                     cmin=fe_edges[0], cmax=fe_edges[-1], line=dict(width=0))))
# sun position
fig.add_trace(go.Scatter(x=[8], y=[0], mode='markers', showlegend=False,
                         marker=dict(symbol='cross-thin', size=26, line=dict(width=4, color='black'))))

# colorbar cells
bar_x = [(a + b) / 2 for a, b in zip(fe_edges[:-1], fe_edges[1:])]
bar_w = [b - a for a, b in zip(fe_edges[:-1], fe_edges[1:])]
fig.add_trace(go.Bar(x=bar_x, y=[1] * len(bar_x), width=bar_w, marker=dict(color=fe_colors, line=dict(width=0)),
                     xaxis='x2', yaxis='y2', showlegend=False))

# empty trace so the overlay axes with the top/right small ticks get drawn
fig.add_trace(go.Scatter(x=[None], y=[None], xaxis='x3', yaxis='y3', showlegend=False))

# axis line kept hairline, the thick frame is a rect centred on the plot edge
frame = dict(showline=True, linewidth=1, linecolor='black', mirror='allticks', showgrid=False, zeroline=False,
             ticks='inside', ticklen=12, tickwidth=4, tickcolor='black',
             tickfont=dict(family=font_name, size=18, color=text_col))
small_ticks = dict(showline=False, showgrid=False, zeroline=False, showticklabels=False,
                   ticks='inside', ticklen=7, tickwidth=3, tickcolor='black', dtick=0.1)

fig.update_layout(
    width=W, height=H, margin=dict(l=0, r=0, t=0, b=0, autoexpand=False), paper_bgcolor='white', plot_bgcolor='white',
    bargap=0, showlegend=False,
    xaxis=dict(frame, domain=[px(90.6), px(725.3)], range=[5.5, 11], dtick=1, tick0=6, ticklabelstandoff=9,
               minor=dict(ticks='inside', ticklen=7, tickwidth=3, dtick=0.1, tickcolor='black')),
    yaxis=dict(frame, domain=[py(666.7), py(147.4)], range=[-3, 3], dtick=1, tick0=0, ticklabelstandoff=4,
               minor=dict(ticks='inside', ticklen=7, tickwidth=3, dtick=0.1, tickcolor='black')),
    xaxis3=dict(small_ticks, overlaying='x', side='top', anchor='y3', range=[5.5, 11], tick0=5.5),
    yaxis3=dict(small_ticks, overlaying='y', side='right', anchor='x3', range=[-3, 3], tick0=0),
    xaxis2=dict(domain=[px(145), px(671)], anchor='y2', range=[fe_edges[0], fe_edges[-1]], showline=True, linewidth=4,
                linecolor='black', mirror=True, showgrid=False, zeroline=False, ticks='inside', ticklen=10, tickwidth=3,
                tickcolor='black', tickvals=fe_ticks, ticktext=fe_ticktext, ticklabelstandoff=6,
                tickfont=dict(family=font_name, size=13, color=text_col),
                minor=dict(ticks='inside', ticklen=4, tickwidth=3, tickvals=fe_edges, tickcolor='black')),
    yaxis2=dict(domain=[py(89), py(40)], anchor='x2', range=[0, 1], showline=True, linewidth=4, linecolor='black',
                mirror=True, showgrid=False, zeroline=False, showticklabels=False, ticks=''),
    annotations=[
        dict(text='[Fe/H]', xref='paper', yref='paper', x=px(407), y=py(24), showarrow=False,
             xanchor='center', yanchor='middle', font=dict(family=font_name, size=18, color=text_col)),
        dict(text='N=2797', x=6.22, y=-2.49, showarrow=False,
             xanchor='center', yanchor='middle', font=dict(family=font_name, size=21, color=text_col)),
        dict(text='R (kpc)', xref='paper', yref='paper', x=px(380), y=py(718), showarrow=False,
             xanchor='center', yanchor='middle', font=dict(family=font_name, size=21, color=text_col)),
        dict(text='Z (kpc)', xref='paper', yref='paper', x=px(28), y=py(408), showarrow=False, textangle=-90,
             xanchor='center', yanchor='middle', font=dict(family=font_name, size=21, color=text_col)),
    ],
    shapes=[
        dict(type='rect', x0=7.5, x1=8.5, y0=-1, y1=1, line=dict(color='black', width=4, dash='8px,8px')),
        dict(type='rect', x0=5.643, x1=6.67, y0=-2.704, y1=-2.283, line=dict(color='black', width=4.5),
             fillcolor='white', layer='above'),
        dict(type='rect', xref='paper', yref='paper', x0=px(90.6), x1=px(725.3), y0=py(666.7), y1=py(147.4),
             line=dict(color='black', width=5), layer='above'),
        dict(type='path', xref='paper', yref='paper', fillcolor='#ffe0dc', line=dict(color='black', width=4),
             path=f'M {px(144)} {py(37)} L {px(91)} {py(64.5)} L {px(144)} {py(92)} Z'),
        dict(type='path', xref='paper', yref='paper', fillcolor='#4a4a4a', line=dict(color='black', width=4),
             path=f'M {px(672)} {py(37)} L {px(719)} {py(64.5)} L {px(672)} {py(92)} Z'),
    ],
)

fig.write_html("out.html")
